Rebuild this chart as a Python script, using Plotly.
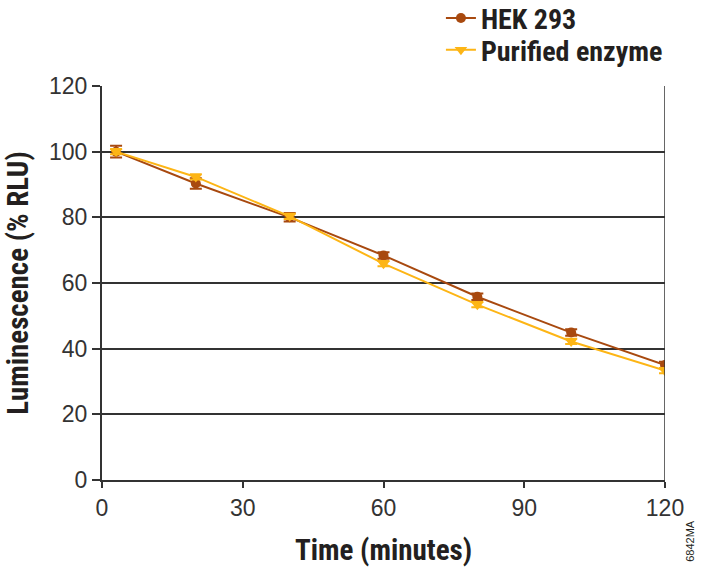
import plotly.graph_objects as go

time_min = [3, 20, 40, 60, 80, 100, 120]
hek_293 = [100.0, 90.3, 80.0, 68.4, 55.8, 44.9, 35.0]
hek_err = [1.8, 1.6, 1.3, 1.0, 1.0, 1.0, 1.0]
purified = [100.0, 92.3, 80.3, 65.9, 53.4, 42.2, 33.3]
purified_err = [0.8, 0.8, 0.8, 0.8, 0.8, 0.8, 0.8]

x_ticks = [0, 30, 60, 90, 120]
y_ticks = [0, 20, 40, 60, 80, 100, 120]

BROWN = "#A8490F"
GOLD = "#FDB515"
COND = "Liberation Sans Narrow, Arial Narrow, Roboto Condensed, sans-serif"
LEG_FONT = dict(family=COND, size=28, color="#231F20", weight="bold")

fig = go.Figure()
fig.add_trace(go.Scatter(
    x=time_min, y=hek_293, name="HEK 293", mode="lines+markers",
    line=dict(color=BROWN, width=2),
    marker=dict(symbol="circle", size=10, color=BROWN),
    error_y=dict(type="data", array=hek_err, color=BROWN, thickness=2, width=6),
    legend="legend",
))
fig.add_trace(go.Scatter(
    x=time_min, y=purified, name="Purified enzyme", mode="lines+markers",
    line=dict(color=GOLD, width=2),
    marker=dict(symbol="triangle-down", size=11, color=GOLD),
    error_y=dict(type="data", array=purified_err, color=GOLD, thickness=2, width=6),
    legend="legend2",
))

fig.update_layout(
    width=702, height=568,
    paper_bgcolor="white", plot_bgcolor="white",
    margin=dict(l=102, r=37, t=86, b=88, autoexpand=False),
    font=dict(family="Liberation Sans, Arial, sans-serif", color="#333333"),
    legend=dict(
        x=0.602, y=1.172, xanchor="left", yanchor="middle",
        font=LEG_FONT, bgcolor="rgba(0,0,0,0)", itemwidth=30,
    ),
    legend2=dict(
        x=0.602, y=1.091, xanchor="left", yanchor="middle",
        font=LEG_FONT, bgcolor="rgba(0,0,0,0)", itemwidth=30,
    ),
    xaxis=dict(
        range=[0, 120], tickvals=x_ticks, ticktext=[str(v) for v in x_ticks],
        showgrid=False, zeroline=False, automargin=False,
        showline=True, linecolor="#333333", linewidth=2, mirror=False,
        ticks="outside", ticklen=6, tickcolor="#333333", tickwidth=1.5,
        tickfont=dict(size=23, color="#333333"),
        title=dict(text="Time (minutes)", standoff=20,
                   font=dict(family=COND, size=29, color="#231F20", weight="bold")),
    ),
    yaxis=dict(
        range=[0, 120], tickvals=y_ticks, ticktext=[str(v) for v in y_ticks],
        showgrid=True, gridcolor="#333333", gridwidth=1.5, zeroline=False, automargin=False,
        showline=True, linecolor="#333333", linewidth=2,
        ticks="outside", ticklen=8, tickcolor="#333333", tickwidth=1.5,
        tickfont=dict(size=23, color="#333333"),
        title=dict(text="Luminescence (% RLU)", standoff=12,
                   font=dict(family=COND, size=29, color="#231F20", weight="bold")),
    ),
    showlegend=True,
)
# right border line
fig.add_shape(type="line", xref="x", yref="paper", x0=120, x1=120, y0=0, y1=1,
              line=dict(color="#333333", width=1.5))
fig.add_annotation(text="6842MA", xref="paper", yref="paper", x=1.044, y=-0.155,
                   textangle=-90, showarrow=False,
                   font=dict(size=11, color="#231F20"), xanchor="center", yanchor="middle")

fig.write_html("out.html", config={"displayModeBar": False},
               post_script="document.body.style.margin='0';")
